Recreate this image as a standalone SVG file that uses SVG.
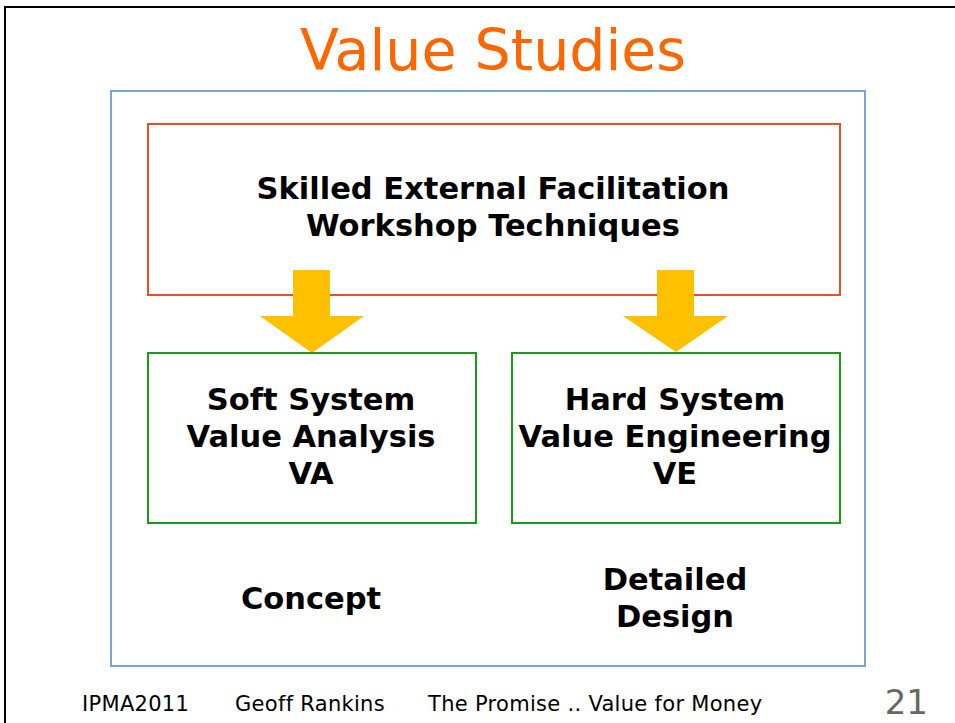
<svg xmlns="http://www.w3.org/2000/svg" width="955" height="723" viewBox="0 0 955 723">
<style>
.t{font-family:"DejaVu Sans",Verdana,sans-serif;font-weight:bold;font-size:30.5px;fill:#000;text-anchor:middle}
.f{font-family:"DejaVu Sans",Verdana,sans-serif;font-size:21px;letter-spacing:0.3px;fill:#000}
.g{fill:#fff;stroke:#1a9a1a;stroke-width:2}
.arr{fill:#ffc000}
</style>
<rect width="955" height="723" fill="#fff"/>
<path d="M5 723 V7 H955" fill="none" stroke="#000" stroke-width="2"/>
<text x="493" y="70" font-family="'DejaVu Sans',Verdana,sans-serif" font-size="57" fill="#ff6600" text-anchor="middle">Value Studies</text>
<rect id="frame" x="111" y="91" width="754" height="575" fill="none" stroke="#7ba3d6" stroke-width="2"/>
<g id="facilitation">
<rect x="148" y="124" width="692" height="171" fill="#fff" stroke="#e8502a" stroke-width="2"/>
<text class="t" x="493" y="199">Skilled External Facilitation</text>
<text class="t" x="493" y="236">Workshop Techniques</text>
</g>
<g id="connectors">
<polygon class="arr" points="293,270 330,270 330,316 364,316 312,353 260,316 293,316"/>
<polygon class="arr" points="657,270 694,270 694,316 728,316 676,352 623,316 657,316"/>
</g>
<g id="va">
<rect class="g" x="148" y="353" width="328" height="170"/>
<text class="t" x="311" y="410">Soft System</text>
<text class="t" x="311" y="447">Value Analysis</text>
<text class="t" x="311" y="484">VA</text>
</g>
<g id="ve">
<rect class="g" x="512" y="353" width="328" height="170"/>
<text class="t" x="675" y="410">Hard System</text>
<text class="t" x="675" y="447">Value Engineering</text>
<text class="t" x="675" y="484">VE</text>
</g>
<g id="concept"><text class="t" x="311" y="609">Concept</text></g>
<g id="design">
<text class="t" x="675" y="590">Detailed</text>
<text class="t" x="675" y="627">Design</text>
</g>
<text class="f" x="82" y="711">IPMA2011</text>
<text class="f" x="235" y="711">Geoff Rankins</text>
<text class="f" x="428" y="711">The Promise .. Value for Money</text>
<text x="928" y="714" font-family="'DejaVu Sans',Verdana,sans-serif" font-size="34" fill="#666" text-anchor="end">21</text>
</svg>
